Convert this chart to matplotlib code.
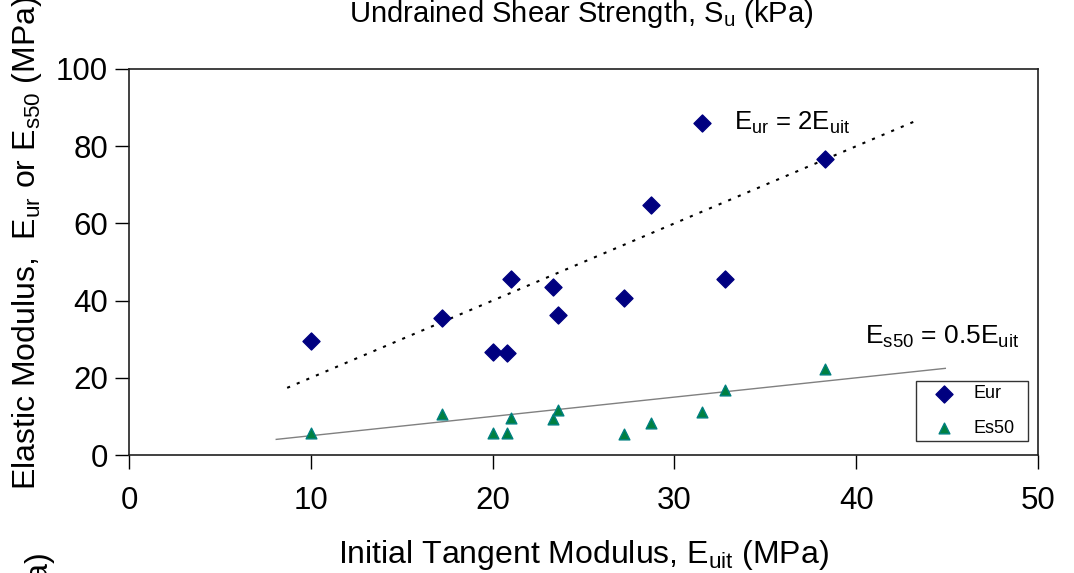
# Elastic modulus vs initial tangent modulus

import numpy as np
import matplotlib
matplotlib.use('Agg')
import matplotlib.pyplot as plt

plt.rcParams['font.family'] = ['Liberation Sans', 'DejaVu Sans']

# Data
Euit = [10.0, 17.2, 20.0, 20.8, 21.0, 23.3, 23.6, 27.2, 28.7, 31.5, 32.8, 38.3]
Eur = [29.6, 35.6, 26.8, 26.4, 45.5, 43.6, 36.4, 40.8, 64.7, 86.0, 45.7, 76.6]
Es50 = [5.7, 10.6, 5.7, 5.7, 9.6, 9.4, 11.7, 5.4, 8.3, 11.2, 16.9, 22.3]

# Reference lines
EurLineX = [8.7, 43.5]
Es50LineX = [8.1, 44.9]

fig = plt.figure(figsize=(10.74, 5.73), dpi=100)
ax = fig.add_axes([0.1201, 0.2059, 0.9665 - 0.1201, 0.8796 - 0.2059])

ax.plot(EurLineX, 2.0*np.array(EurLineX), ls=(0, (1.5, 3.5)), color='black', lw=1.5)
ax.plot(Es50LineX, 0.5*np.array(Es50LineX), color='#808080', lw=1.0)

ax.scatter(Euit, Eur, marker='D', s=75, color='#000080', label='Eur', zorder=3)
ax.scatter(Euit, Es50, marker='^', s=60, color='#008040', edgecolors='#008080',
           linewidths=1.0, label='Es50', zorder=3)

ax.set_xlim(0, 50)
ax.set_ylim(0, 100)
ax.set_xticks([0, 10, 20, 30, 40, 50])
ax.set_yticks([0, 20, 40, 60, 80, 100])
ax.tick_params(direction='out', length=10, width=1, labelsize=22.5, pad=12)
ax.tick_params(axis='y', pad=5)
for s in ax.spines.values():
    s.set_linewidth(1.2)
    s.set_color('#202020')

ax.text(33.3, 86, r'$\mathregular{E_{ur}}$ = 2E$\mathregular{_{uit}}$', fontsize=18.5,
        va='center', ha='left')
ax.text(40.5, 30.6, r'$\mathregular{E_{s50}}$ = 0.5E$\mathregular{_{uit}}$', fontsize=19,
        va='center', ha='left')

ax.set_xlabel(r'Initial Tangent Modulus, E$\mathregular{_{uit}}$ (MPa)', fontsize=23, labelpad=16)
ax.set_ylabel(r'Elastic Modulus,  E$\mathregular{_{ur}}$ or E$\mathregular{_{s50}}$ (MPa)',
              fontsize=23)
ax.yaxis.set_label_coords(-0.093, 0.55)

leg = ax.legend(loc='upper left', bbox_to_anchor=(0.866, 0.031, 0.123, 0.161), mode='expand',
                borderaxespad=0, fontsize=13, frameon=True, fancybox=False,
                edgecolor='black', handlelength=2.6, handletextpad=0.3, borderpad=0.25,
                labelspacing=0.95, scatterpoints=1)
leg.get_frame().set_linewidth(1.0)

# cut-off labels from the neighbouring chart
fig.text(0.541, 0.975, r'Undrained Shear Strength, S$\mathregular{_u}$ (kPa)', fontsize=21,
         ha='center', va='center')
fig.text(0.035, 1 - 550/573, '(kPa)', fontsize=23, rotation=90, ha='center', va='top')

plt.savefig('out.png', dpi=100)
